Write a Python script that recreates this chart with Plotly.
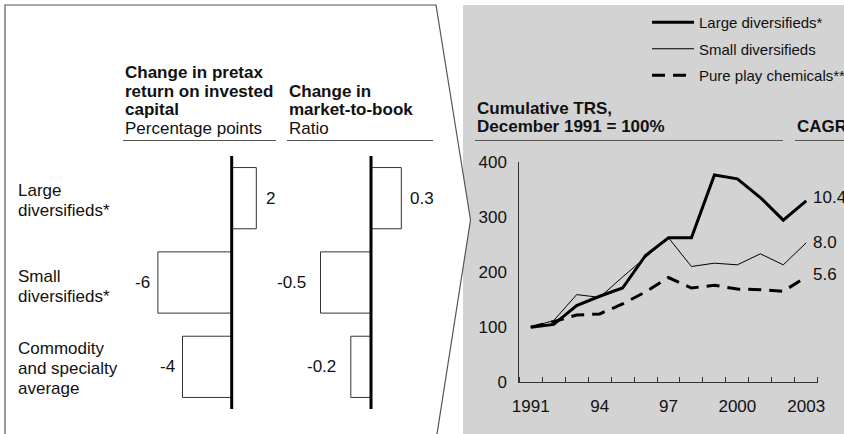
import plotly.graph_objects as go

# ---------------- data ----------------
categories = ["Large diversifieds*", "Small diversifieds*", "Commodity and specialty average"]
category_lines = [["Large", "diversifieds*"],
                  ["Small", "diversifieds*"],
                  ["Commodity", "and specialty", "average"]]
roic_change = [2, -6, -4]            # percentage points
roic_labels = ["2", "-6", "-4"]
mtb_change = [0.3, -0.5, -0.2]       # ratio
mtb_labels = ["0.3", "-0.5", "-0.2"]

years = [1991, 1992, 1993, 1994, 1995, 1996, 1997, 1998, 1999, 2000, 2001, 2002, 2003]
large_div = [100, 105, 139, 156, 171, 230, 262, 262, 376, 369, 335, 294, 329]
small_div = [100, 112, 159, 154, 191, 227, 262, 210, 216, 213, 233, 213, 253]
pure_play = [100, 110, 122, 124, 142, 164, 190, 171, 176, 169, 168, 165, 191]
cagr_labels = ["10.4", "8.0", "5.6"]
series_names = ["Large diversifieds*", "Small diversifieds", "Pure play chemicals**"]
year_ticks = [1991, 1994, 1997, 2000, 2003]
year_ticktext = ["1991", "94", "97", "2000", "2003"]
trs_ticks = [0, 100, 200, 300, 400]

# ---------------- helpers ----------------
W, H = 844, 434
FONT = "Liberation Sans, Arial, Helvetica, sans-serif"
TXT = "#111111"
AX = "#333333"


def X(px):
    return px / W


def Y(py):
    return 1 - py / H


fig = go.Figure()

# ---------------- bar charts ----------------
bar_style = dict(orientation="h", marker=dict(color="white", line=dict(color=AX, width=1)),
                 width=0.726, showlegend=False, hoverinfo="x+y")
fig.add_trace(go.Bar(x=roic_change, y=categories, xaxis="x", yaxis="y", **bar_style))
fig.add_trace(go.Bar(x=mtb_change, y=categories, xaxis="x2", yaxis="y2", **bar_style))

# ---------------- line chart ----------------
line_specs = [
    (large_div, dict(color="#000000", width=3)),
    (small_div, dict(color="#000000", width=1)),
    (pure_play, dict(color="#000000", width=3, dash="13px,8px")),
]
for name, (vals, ln) in zip(series_names, line_specs):
    fig.add_trace(go.Scatter(x=years, y=vals, mode="lines", name=name, line=ln,
                             xaxis="x3", yaxis="y3", legendgroup=name))

hidden = dict(visible=True, showgrid=False, zeroline=False, showline=False,
              showticklabels=False, ticks="", fixedrange=True, automargin=False)

bar_ydom = [Y(409), Y(156)]
layout = dict(
    template="none",
    width=W, height=H,
    margin=dict(l=0, r=0, t=0, b=0, pad=0, autoexpand=False),
    paper_bgcolor="white", plot_bgcolor="rgba(0,0,0,0)",
    font=dict(family=FONT, size=17, color=TXT),
    xaxis=dict(domain=[X(140), X(262)], range=[-7.455, 2.463], **hidden),
    yaxis=dict(domain=bar_ydom, range=[2.5, -0.5], type="category",
               categoryorder="array", categoryarray=categories, **hidden),
    xaxis2=dict(domain=[X(300), X(420)], range=[-0.703, 0.485], anchor="y2", **hidden),
    yaxis2=dict(domain=bar_ydom, range=[2.5, -0.5], type="category", anchor="x2",
                categoryorder="array", categoryarray=categories, **hidden),
    xaxis3=dict(domain=[X(519.3), X(817.7)], range=[1990.5, 2003.5], anchor="y3",
                tickmode="array", tickvals=year_ticks, ticktext=year_ticktext,
                ticks="", showline=True, linecolor=AX, linewidth=1, showgrid=False,
                zeroline=False, ticklabelstandoff=8, automargin=False,
                minor=dict(tick0=1990.5, dtick=1, ticks="inside", ticklen=5,
                           tickcolor=AX, tickwidth=1, showgrid=False),
                tickfont=dict(size=17, color=TXT)),
    yaxis3=dict(domain=[Y(382.3), Y(161.7)], range=[0, 400], anchor="x3",
                tickmode="array", tickvals=trs_ticks, ticks="",
                showline=True, linecolor=AX, linewidth=1, showgrid=False,
                zeroline=False, ticklabelstandoff=8, automargin=False,
                tickfont=dict(size=17, color=TXT)),
    showlegend=True,
    legend=dict(x=X(647), y=Y(6), xanchor="left", yanchor="top",
                bgcolor="rgba(0,0,0,0)", font=dict(size=15, color=TXT),
                tracegroupgap=4, itemwidth=42, traceorder="grouped"),
)
fig.update_layout(**layout)

# ---------------- shapes ----------------
shapes = [
    # grey panel behind the line chart
    dict(type="rect", xref="paper", yref="paper", x0=X(463), x1=1, y0=0, y1=Y(5),
         fillcolor="#d3d3d3", line=dict(width=0), layer="below"),
    # white callout panel with arrow edge
    dict(type="path", xref="paper", yref="paper", layer="below",
         path=f"M {X(5)},{Y(445)} L {X(5)},{Y(5)} L {X(436)},{Y(5)} "
              f"L {X(470.5)},{Y(220)} L {X(435.3)},{Y(445)} Z",
         fillcolor="white", line=dict(color="#555555", width=1.2)),
    # header underlines
    dict(type="line", xref="paper", yref="paper", x0=X(123), x1=X(276), y0=Y(140.5), y1=Y(140.5),
         line=dict(color="#555555", width=1)),
    dict(type="line", xref="paper", yref="paper", x0=X(287), x1=X(433), y0=Y(140.5), y1=Y(140.5),
         line=dict(color="#555555", width=1)),
    dict(type="line", xref="paper", yref="paper", x0=X(475), x1=X(783), y0=Y(140.5), y1=Y(140.5),
         line=dict(color="#555555", width=1)),
    dict(type="line", xref="paper", yref="paper", x0=X(795), x1=1, y0=Y(140.5), y1=Y(140.5),
         line=dict(color="#555555", width=1)),
    # zero lines of the bar charts
    dict(type="line", xref="x", yref="y domain", x0=0, x1=0, y0=0, y1=1,
         line=dict(color="#000000", width=3), layer="above"),
    dict(type="line", xref="x2", yref="y2 domain", x0=0, x1=0, y0=0, y1=1,
         line=dict(color="#000000", width=3), layer="above"),
]
fig.update_layout(shapes=shapes)

# ---------------- annotations ----------------
ann = []


def txt(text, px, py, xanchor="left", size=17):
    ann.append(dict(text=text, x=X(px), y=Y(py), xref="paper", yref="paper",
                    xanchor=xanchor, yanchor="middle", showarrow=False,
                    font=dict(size=size, color=TXT)))


# left headers
txt("<b>Change in pretax</b>", 123, 72.5)
txt("<b>return on invested</b>", 123, 91)
txt("<b>capital</b>", 123, 109.5)
txt("Percentage points", 123, 128.5)
txt("<b>Change in</b>", 287, 91)
txt("<b>market-to-book</b>", 287, 109.5)
txt("Ratio", 287, 128.5)
# right headers
txt("<b>Cumulative TRS,</b>", 475, 108)
txt("<b>December 1991 = 100%</b>", 475, 126.7)
txt("<b>CAGR</b>", 795, 126.7)

# category labels
cat_centres = [[190, 210], [276, 296], [348, 368, 388]]
for lines, centres in zip(category_lines, cat_centres):
    for line, cy in zip(lines, centres):
        txt(line, 16, cy)

# bar value labels
for xa, ya, vals, labels, pos_shift, neg_shift in [
        ("x", "y", roic_change, roic_labels, 8, -5.5),
        ("x2", "y2", mtb_change, mtb_labels, 7, -12.5)]:
    for cat, v, lab in zip(categories, vals, labels):
        ann.append(dict(text=lab, x=v, y=cat, xref=xa, yref=ya, showarrow=False,
                        xanchor="left" if v > 0 else "right", yanchor="middle",
                        xshift=pos_shift if v > 0 else neg_shift,
                        font=dict(size=17, color=TXT)))

# CAGR end labels
for vals, lab, ys in zip([large_div, small_div, pure_play], cagr_labels, [3, 0, 2]):
    ann.append(dict(text=lab, x=years[-1], y=vals[-1], xref="x3", yref="y3",
                    showarrow=False, xanchor="left", yanchor="middle",
                    xshift=5, yshift=ys, font=dict(size=17, color=TXT)))

fig.update_layout(annotations=ann)

fig.write_html("out.html", config={"displayModeBar": False},
               post_script="document.body.style.margin='0';document.body.style.overflow='hidden';")
